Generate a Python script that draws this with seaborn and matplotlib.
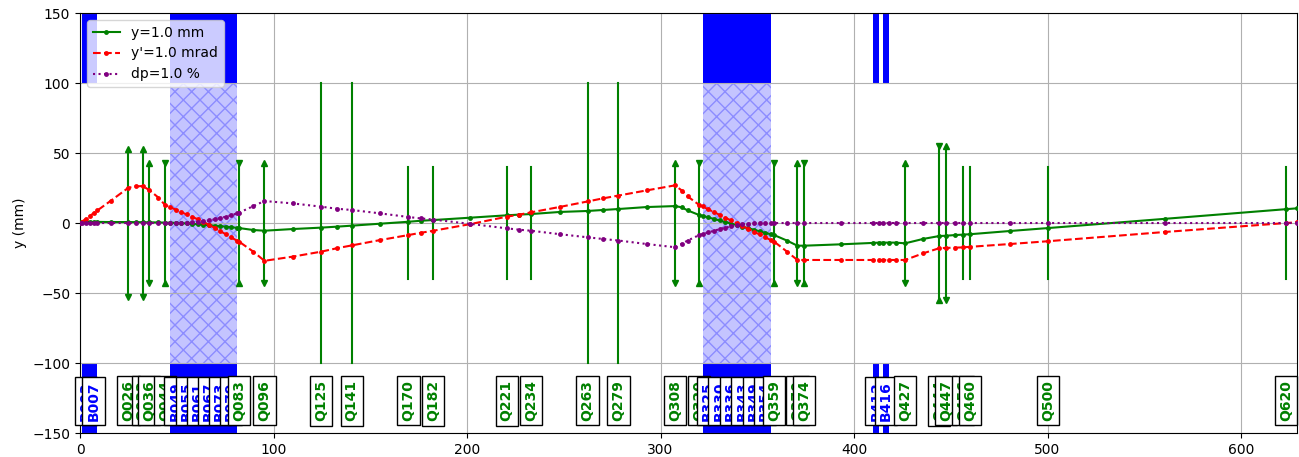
import numpy as np
import pandas as pd
import matplotlib
matplotlib.use("Agg")
import matplotlib.pyplot as plt
import seaborn as sns

# =========================================================
# DATA
# =========================================================
s_pts = [
    0, 1, 3, 5, 7, 9, 16, 25, 29, 32.4, 35.7, 40.5, 43.9,
    46.5, 49.4, 52.25, 55.1, 58, 60.9, 63.75, 66.6, 69.5, 72.4, 75.25, 78.1, 81,
    82.2, 89.6, 95.3, 110, 124.5, 132.8, 140.4, 155, 169.7, 176, 182.3, 201.6,
    220.5, 227, 233, 248, 262.3, 270.2, 278.2, 292.8, 307.5, 311, 314, 320,
    321.7, 324.65, 327.6, 330.55, 333.5, 336.45, 339.4, 342.35, 345.3, 348.25,
    351.2, 354.1, 357,
    358.7, 365.4, 370.7, 374.3, 393.5, 410, 413, 415, 418, 421.5, 426.4, 435.6,
    444, 447.4, 452.2, 456.2, 460, 480.6, 500.3, 560.7, 623.3, 629
]

y_ray = [
    1.0, 0.9, 0.9, 0.8, 0.8, 0.8, 0.7, 0.7, 0.6, 0.6, 0.5, 0.4, 0.3,
    0.2, 0.1, -0.1, -0.3, -0.6, -0.9, -1.2, -1.5, -1.9, -2.2, -2.6, -3.0, -3.4,
    -3.6, -5.0, -5.5, -4.3, -3.3, -2.6, -1.9, -0.5, 0.9, 1.6, 2.1, 3.8,
    5.5, 6.0, 6.4, 7.9, 8.6, 9.3, 10.0, 11.4, 12.1, 11.2, 9.0, 5.7,
    5.1, 4.0, 2.9, 1.8, 0.7, -0.4, -1.5, -2.6, -3.7, -4.8,
    -5.9, -7.0, -8.0,
    -8.6, -12.6, -16.2, -16.2, -15.2, -14.2, -14.0, -14.0, -14.0, -14.0, -14.5, -11.4,
    -9.3, -9.1, -8.6, -8.3, -8.0, -5.7, -3.6, 3.0, 9.9, 10.5
]

yp_ray = [
    0, 1, 3, 5, 7, 9, 16, 25.2, 26.2, 26.4, 23.6, 18.2, 12.9,
    11.4, 9.6, 7.8, 6.1, 4.4, 2.6, 0.8, -1.3, -3.4, -5.7, -8.0, -10.3, -12.5,
    -13.3, -20.5, -27.0, -24.0, -20.5, -18.0, -16.0, -12.2, -8.6, -7.0, -5.6, -0.8,
    4.5, 6.0, 7.6, 11.5, 15.4, 17.6, 19.6, 23.3, 26.9, 23.2, 19.0, 12.9,
    11.8, 9.8, 7.8, 5.8, 3.8, 1.8, -0.2, -2.2, -4.2, -6.2,
    -8.2, -10.2, -12.2,
    -13.3, -20.5, -26.4, -26.4, -26.4, -26.4, -26.4, -26.4, -26.4, -26.4, -26.4, -21.7,
    -18.0, -17.8, -17.6, -17.4, -17.0, -15.0, -13.0, -6.4, 0.0, 0.5
]

dp_ray = [
    0, 0, 0, 0, 0, 0, 0, 0, 0, 0, 0, 0, 0,
    0, 0, 0.1, 0.3, 0.5, 0.8, 1.2, 1.8, 2.6, 3.5, 4.5, 5.6, 6.8,
    7.4, 12.1, 15.7, 14.0, 11.7, 10.2, 9.3, 6.9, 4.3, 3.3, 2.5, -0.6,
    -3.8, -4.8, -5.5, -8.0, -10.2, -11.4, -12.5, -15.0, -17.3, -14.8, -12.5, -8.6,
    -7.9, -6.7, -5.5, -4.4, -3.3, -2.4, -1.6, -0.9, -0.4, -0.1,
    0, 0, 0,
    0, 0, 0, 0, 0, 0, 0, 0, 0, 0, 0, 0,
    0, 0, 0, 0, 0, 0, 0, 0, 0, 0
]

# dipoles: name, start, length, hatched body
dip_names = [
    "B003", "B007",
    "B049", "B055", "B061", "B067", "B073", "B079",
    "B325", "B330", "B336", "B343", "B349", "B354",
    "B412", "B416"
]
dip_start = [
    1, 5,
    46.5, 52.25, 58, 63.75, 69.5, 75.25,
    321.7, 327.6, 333.5, 339.4, 345.3, 351.2,
    410, 414.8
]
dip_len = [
    4, 4,
    5.75, 5.75, 5.75, 5.75, 5.75, 5.75,
    5.9, 5.9, 5.9, 5.9, 5.9, 5.8,
    3, 3.2
]
dip_hatch = [
    False, False,
    True, True, True, True, True, True,
    True, True, True, True, True, True,
    False, False
]

# quadrupoles: name, position, half height, marker kind
quad_names = [
    "Q026", "Q032", "Q036", "Q044", "Q083", "Q096", "Q125", "Q141",
    "Q170", "Q182", "Q221", "Q234", "Q263", "Q279", "Q308", "Q320",
    "Q359", "Q370", "Q374", "Q427", "Q444", "Q447", "Q456", "Q460",
    "Q500", "Q620"
]
quad_s = [
    25.0, 32.4, 35.7, 43.9, 82.2, 95.3, 124.5, 140.4,
    169.7, 182.3, 220.5, 233.0, 262.3, 278.2, 307.5, 320.0,
    358.7, 370.7, 374.3, 426.4, 444.0, 447.4, 456.2, 460.0,
    500.3, 623.3
]
quad_h = [
    53, 53, 43, 43, 43, 43, 100, 100,
    40, 40, 40, 40, 100, 100, 43, 43,
    43, 43, 43, 43, 55, 55, 40, 40,
    40, 40
]
quad_kind = [
    "out", "out", "out", "in", "in", "out", "none", "none",
    "none", "none", "none", "none", "none", "none", "out", "in",
    "in", "out", "in", "out", "in", "out", "none", "none",
    "none", "none"
]

df = pd.DataFrame({
    "s": s_pts,
    "y": y_ray,
    "yp": yp_ray,
    "dp": dp_ray
})

# =========================================================
# FIGURE
# =========================================================
fig = plt.figure(figsize=(12.99, 4.57), dpi=100)
ax = fig.add_axes([0.0616, 0.0525, 0.937, 0.919])

# =========================================================
# DIPOLES
# =========================================================
for name, start, length, hatched in zip(dip_names, dip_start, dip_len, dip_hatch):

    center = start + length / 2

    ax.bar(center, 50, width=length, bottom=100,
           color="blue", linewidth=0, zorder=1)
    ax.bar(center, 50, width=length, bottom=-150,
           color="blue", linewidth=0, zorder=1)

    if hatched:
        ax.bar(center, 200, width=length, bottom=-100,
               facecolor="#c4c4ff", edgecolor="#8c8cff",
               hatch="xx", linewidth=0, zorder=1)

# =========================================================
# QUADRUPOLES
# =========================================================
for s, h, kind in zip(quad_s, quad_h, quad_kind):

    ax.plot([s, s], [-h, h], color="green", linewidth=1.5, zorder=2)

    if kind == "out":
        ax.plot(s, h, marker="^", color="green", markersize=5, zorder=2)
        ax.plot(s, -h, marker="v", color="green", markersize=5, zorder=2)
    elif kind == "in":
        ax.plot(s, h, marker="v", color="green", markersize=5, zorder=2)
        ax.plot(s, -h, marker="^", color="green", markersize=5, zorder=2)

# =========================================================
# RAYS
# =========================================================
sns.lineplot(data=df, x="s", y="y", ax=ax, color="green",
             marker="o", markersize=3.5, markeredgewidth=0,
             linewidth=1.5, label="y=1.0 mm", estimator=None, zorder=3)

sns.lineplot(data=df, x="s", y="yp", ax=ax, color="red",
             marker="o", markersize=3.5, markeredgewidth=0,
             linewidth=1.5, linestyle="--", label="y'=1.0 mrad",
             estimator=None, zorder=3)

sns.lineplot(data=df, x="s", y="dp", ax=ax, color="purple",
             marker="o", markersize=3.5, markeredgewidth=0,
             linewidth=1.5, linestyle=":", label="dp=1.0 %",
             estimator=None, zorder=3)

# =========================================================
# ELEMENT LABELS
# =========================================================
labels = []
for name, start, length in zip(dip_names, dip_start, dip_len):
    labels.append((start + length / 2, name, "blue"))
for name, s in zip(quad_names, quad_s):
    labels.append((s, name, "green"))
labels.sort(key=lambda t: t[0])

for s, name, col in labels:
    ax.text(s, -127, name, rotation=90, ha="center", va="center",
            color=col, fontsize=10, fontweight="bold", zorder=4,
            bbox=dict(boxstyle="square,pad=0.3",
                      facecolor="white", edgecolor="black"))

# =========================================================
# AXES
# =========================================================
ax.set_xlim(0, 629)
ax.set_ylim(-150, 150)
ax.set_yticks([-150, -100, -50, 0, 50, 100, 150])
ax.set_xlabel("")
ax.set_ylabel("y (mm)")
ax.grid(True)

leg = ax.legend(loc="upper left")
leg.set_zorder(10)

plt.savefig("out.png", dpi=100)
